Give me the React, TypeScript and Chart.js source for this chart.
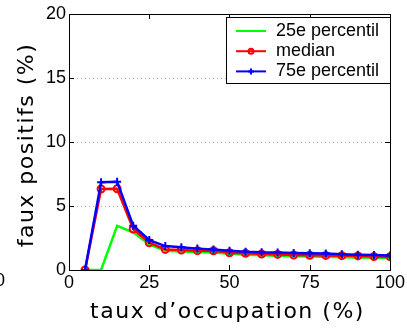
import React, { useEffect, useRef } from "react";
import { Chart, registerables } from "chart.js";
Chart.register(...registerables);

const occupation = [5, 10, 15, 20, 25, 30, 35, 40, 45, 50, 55, 60, 65, 70, 75, 80, 85, 90, 95, 100];
const p25 = [0, 0, 3.45, 2.95, 2.0, 1.5, 1.45, 1.4, 1.36, 1.26, 1.2, 1.15, 1.12, 1.08, 1.05, 1.03, 1.0, 0.98, 0.95, 0.93];
const median = [0, 6.33, 6.35, 3.2, 2.13, 1.61, 1.56, 1.51, 1.5, 1.35, 1.3, 1.25, 1.22, 1.17, 1.15, 1.14, 1.12, 1.1, 1.05, 1.04];
const p75 = [0, 6.85, 6.9, 3.46, 2.34, 1.87, 1.77, 1.67, 1.61, 1.51, 1.43, 1.38, 1.37, 1.33, 1.3, 1.28, 1.23, 1.2, 1.17, 1.13];
const xTicks = [0, 25, 50, 75, 100];
const yTicks = [0, 5, 10, 15, 20];
const seriesLabels = ["25e percentil", "median", "75e percentil"];
const xTitle = "taux d\u2019occupation (%)";
const yTitle = "faux positifs (%)";
const strayLabel = "0";

const TICK_FONT = "18px 'Liberation Sans', Arial, sans-serif";
const TITLE_FONT = "22px 'DejaVu Sans', sans-serif";

const decorPlugin = {
  id: "decor",
  beforeDatasetsDraw(chart: any) {
    const { ctx, chartArea: a, scales } = chart;
    const y = scales.y;
    ctx.save();
    ctx.strokeStyle = "#b0b0b0";
    ctx.lineWidth = 1;
    ctx.setLineDash([1, 3]);
    yTicks.forEach((v) => {
      if (v === yTicks[0] || v === yTicks[yTicks.length - 1]) return;
      const py = Math.round(y.getPixelForValue(v)) + 0.5;
      ctx.beginPath();
      ctx.moveTo(a.left, py);
      ctx.lineTo(a.right, py);
      ctx.stroke();
    });
    ctx.restore();
  },
  afterDraw(chart: any) {
    const { ctx, chartArea: a, scales } = chart;
    const x = scales.x;
    const y = scales.y;
    ctx.save();
    // frame
    ctx.strokeStyle = "#000";
    ctx.lineWidth = 1;
    ctx.setLineDash([]);
    ctx.strokeRect(Math.round(a.left) + 0.5, Math.round(a.top) + 0.5, Math.round(a.right - a.left), Math.round(a.bottom - a.top));
    // inward ticks
    const tl = 5;
    ctx.beginPath();
    xTicks.forEach((v) => {
      const px = Math.round(x.getPixelForValue(v)) + 0.5;
      ctx.moveTo(px, a.bottom);
      ctx.lineTo(px, a.bottom - tl);
      ctx.moveTo(px, a.top);
      ctx.lineTo(px, a.top + tl);
    });
    yTicks.forEach((v) => {
      const py = Math.round(y.getPixelForValue(v)) + 0.5;
      ctx.moveTo(a.left, py);
      ctx.lineTo(a.left + tl, py);
      ctx.moveTo(a.right, py);
      ctx.lineTo(a.right - tl, py);
    });
    ctx.stroke();

    // titles
    ctx.fillStyle = "#000";
    ctx.font = TITLE_FONT;
    try { (ctx as any).letterSpacing = "1.5px"; } catch (e) {}
    ctx.textAlign = "center";
    ctx.textBaseline = "middle";
    ctx.fillText(xTitle, (a.left + a.right) / 2 - 2, 312);
    ctx.save();
    ctx.translate(27, (a.top + a.bottom) / 2 + 3);
    ctx.rotate(-Math.PI / 2);
    ctx.fillText(yTitle, 0, 0);
    ctx.restore();
    try { (ctx as any).letterSpacing = "0px"; } catch (e) {}

    // stray label from neighbouring plot
    ctx.font = TICK_FONT;
    ctx.textAlign = "left";
    ctx.fillText(strayLabel, -5, 281);

    // legend
    const lx = 226, ly = 17, lw = 164, lh = 66;
    ctx.fillStyle = "#fff";
    ctx.fillRect(lx, ly, lw, lh);
    ctx.strokeStyle = "#000";
    ctx.lineWidth = 1;
    ctx.strokeRect(lx + 0.5, ly + 0.5, lw, lh);
    const dsets = chart.data.datasets;
    seriesLabels.forEach((lab, i) => {
      const ry = 31 + i * 20.2;
      const ds = dsets[i];
      ctx.strokeStyle = ds.borderColor;
      ctx.lineWidth = 2;
      ctx.beginPath();
      ctx.moveTo(236, ry);
      ctx.lineTo(266, ry);
      ctx.stroke();
      if (ds.pointStyle === "circle") {
        ctx.beginPath();
        ctx.arc(251, ry, 2.5, 0, Math.PI * 2);
        ctx.stroke();
      } else if (ds.pointStyle === "cross") {
        ctx.beginPath();
        ctx.moveTo(251, ry - 3);
        ctx.lineTo(251, ry + 3);
        ctx.moveTo(248, ry);
        ctx.lineTo(254, ry);
        ctx.stroke();
      }
      ctx.fillStyle = "#000";
      ctx.font = TICK_FONT;
      ctx.textAlign = "left";
      ctx.textBaseline = "middle";
      ctx.fillText(lab, 276, ry);
    });
    ctx.restore();
  },
};

export default function App() {
  const ref = useRef<HTMLCanvasElement | null>(null);
  useEffect(() => {
    if (!ref.current) return;
    const mk = (ys: number[]) => occupation.map((xv, i) => ({ x: xv, y: ys[i] }));
    const chart = new Chart(ref.current, {
      type: "line",
      data: {
        datasets: [
          {
            label: seriesLabels[0],
            data: mk(p25),
            borderColor: "#00ff00",
            backgroundColor: "#00ff00",
            borderWidth: 2.5,
            pointRadius: 0,
            pointStyle: false as any,
            order: 3,
          },
          {
            label: seriesLabels[1],
            data: mk(median),
            borderColor: "#ff0000",
            backgroundColor: "rgba(0,0,0,0)",
            borderWidth: 2.5,
            pointStyle: "circle",
            pointRadius: 3.5,
            pointBorderWidth: 2,
            order: 2,
          },
          {
            label: seriesLabels[2],
            data: mk(p75),
            borderColor: "#0000ff",
            backgroundColor: "#0000ff",
            borderWidth: 2.5,
            pointStyle: "cross",
            pointRadius: 4,
            pointBorderWidth: 2,
            order: 1,
          },
        ],
      },
      options: {
        animation: false,
        responsive: false,
        devicePixelRatio: 1,
        layout: { padding: { top: 14, right: 13, left: 0, bottom: 0 } },
        plugins: { legend: { display: false }, tooltip: { enabled: false } },
        elements: { line: { tension: 0 } },
        scales: {
          x: {
            type: "linear",
            min: 0,
            max: 100,
            afterFit: (s: any) => { s.height = 63; },
            afterBuildTicks: (s: any) => { s.ticks = xTicks.map((v) => ({ value: v })); },
            grid: { display: false, drawTicks: false },
            border: { display: false },
            ticks: { color: "#000", font: { family: "'Liberation Sans', Arial, sans-serif", size: 18 }, padding: 2, maxRotation: 0 },
          },
          y: {
            type: "linear",
            min: 0,
            max: 20,
            afterFit: (s: any) => { s.width = 69; },
            afterBuildTicks: (s: any) => { s.ticks = yTicks.map((v) => ({ value: v })); },
            grid: { display: false, drawTicks: false },
            border: { display: false },
            ticks: { color: "#000", font: { family: "'Liberation Sans', Arial, sans-serif", size: 18 }, padding: 3 },
          },
        },
      },
      plugins: [decorPlugin],
    });
    return () => chart.destroy();
  }, []);
  return (
    <div style={{ position: "fixed", left: 0, top: 0, width: 407, height: 333, background: "#fff" }}>
      <canvas ref={ref} width={407} height={333} style={{ display: "block" }} />
    </div>
  );
}
